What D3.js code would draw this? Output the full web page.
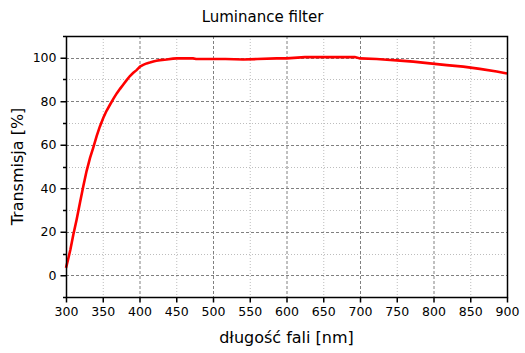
<!DOCTYPE html>
<html>
<head>
<meta charset="utf-8">
<script src="https://cdn.jsdelivr.net/npm/d3@7"></script>
<style>
  body { margin: 0; background: #fff; }
  text { font-family: "DejaVu Sans", sans-serif; fill: #000; }
</style>
</head>
<body>
<div id="chart"></div>
<script>
// długość fali [nm] i transmisja [%]
const wavelength = [300, 303, 306, 310, 314.5, 319, 323.6, 328, 332.7, 337, 341.7, 346, 350.8, 355, 360, 364.4, 369, 373.5, 378, 382.5, 387, 391.6, 396, 400.7, 405, 409.7, 414, 418.8, 423, 428, 437, 445.6, 450.6, 472.8, 477, 500, 517, 541, 560, 586.6, 600, 625, 650, 693, 700, 722.7, 741, 750, 772.5, 795, 818, 840.5, 863, 886, 900];
const transmission = [3.4, 7.5, 11.8, 18.7, 25.6, 33.3, 41, 47.9, 54, 58.6, 64, 68.3, 72.4, 75.5, 78.5, 81.1, 83.6, 85.7, 87.7, 89.7, 91.6, 93.1, 94.3, 95.9, 96.7, 97.4, 97.8, 98.3, 98.6, 98.9, 99.2, 99.6, 99.7, 99.7, 99.4, 99.4, 99.4, 99.2, 99.4, 99.7, 99.7, 100.3, 100.3, 100.3, 99.7, 99.4, 99.0, 98.8, 98.2, 97.4, 96.6, 95.9, 94.9, 93.7, 92.8];
const xTicks = [300, 350, 400, 450, 500, 550, 600, 650, 700, 750, 800, 850, 900];
const yTicks = [0, 20, 40, 60, 80, 100];
const yMinor = [-10, 10, 30, 50, 70, 90, 110];

const width = 525, height = 353;
const margin = {top: 36, right: 18, bottom: 56, left: 66};

const svg = d3.select("#chart").append("svg")
    .attr("width", width)
    .attr("height", height);

const xScale = d3.scaleLinear().domain([300, 900]).range([margin.left, width - margin.right]);
const yScale = d3.scaleLinear().domain([-10, 110]).range([height - margin.bottom, margin.top]);

// siatka pomocnicza (kropkowana)
const minorX = xTicks.filter(d => d % 100 !== 0 && d > 300 && d < 900);
svg.append("g").selectAll("line").data(minorX).enter().append("line")
    .attr("x1", d => xScale(d) + 0.5).attr("x2", d => xScale(d) + 0.5)
    .attr("y1", margin.top).attr("y2", height - margin.bottom)
    .attr("stroke", "#bdbdbd").attr("stroke-dasharray", "1,2");
svg.append("g").selectAll("line").data(yMinor.slice(1, -1)).enter().append("line")
    .attr("x1", margin.left).attr("x2", width - margin.right)
    .attr("y1", d => Math.round(yScale(d)) + 0.5).attr("y2", d => Math.round(yScale(d)) + 0.5)
    .attr("stroke", "#bdbdbd").attr("stroke-dasharray", "1,2");

// siatka główna (kreskowana)
const majorX = xTicks.filter(d => d % 100 === 0 && d > 300 && d < 900);
svg.append("g").selectAll("line").data(majorX).enter().append("line")
    .attr("x1", d => xScale(d) + 0.5).attr("x2", d => xScale(d) + 0.5)
    .attr("y1", margin.top).attr("y2", height - margin.bottom)
    .attr("stroke", "#808080").attr("stroke-dasharray", "3,2");
svg.append("g").selectAll("line").data(yTicks).enter().append("line")
    .attr("x1", margin.left).attr("x2", width - margin.right)
    .attr("y1", d => Math.round(yScale(d)) + 0.5).attr("y2", d => Math.round(yScale(d)) + 0.5)
    .attr("stroke", "#808080").attr("stroke-dasharray", "3,2");

// krzywa transmisji
const data = wavelength.map((w, i) => ({x: w, y: transmission[i]}));
svg.append("path")
    .datum(data)
    .attr("fill", "none")
    .attr("stroke", "#ff0000")
    .attr("stroke-width", 2.6)
    .attr("d", d3.line().x(d => xScale(d.x)).y(d => yScale(d.y)));

// ramka
svg.append("rect")
    .attr("x", margin.left + 0.5).attr("y", margin.top + 0.5)
    .attr("width", width - margin.left - margin.right)
    .attr("height", height - margin.top - margin.bottom)
    .attr("fill", "none").attr("stroke", "#000").attr("stroke-width", 1.5);

// oś x
const gx = svg.append("g")
    .attr("transform", "translate(0," + (height - margin.bottom + 0.5) + ")")
    .call(d3.axisBottom(xScale).tickValues(xTicks).tickSize(5).tickPadding(5).tickFormat(d3.format("d")));
gx.select(".domain").remove();
gx.selectAll("line").attr("stroke-width", 1.5);
gx.selectAll("text").style("font-size", "12.5px").style("font-family", "DejaVu Sans");

// oś y
const gy = svg.append("g")
    .attr("transform", "translate(" + (margin.left + 0.5) + ",0)")
    .call(d3.axisLeft(yScale).tickValues(yTicks).tickSize(6).tickPadding(4).tickFormat(d3.format("d")));
gy.select(".domain").remove();
gy.selectAll("line").attr("stroke-width", 1.5);
gy.selectAll("text").style("font-size", "12.5px").style("font-family", "DejaVu Sans");
svg.append("g").selectAll("line").data(yMinor).enter().append("line")
    .attr("x1", margin.left - 3).attr("x2", margin.left)
    .attr("y1", d => Math.round(yScale(d)) + 0.5).attr("y2", d => Math.round(yScale(d)) + 0.5)
    .attr("stroke", "#000").attr("stroke-width", 1.5);

// tytuł i opisy osi
svg.append("text")
    .attr("x", width / 2).attr("y", 22)
    .attr("text-anchor", "middle").style("font-size", "15px")
    .text("Luminance filter");
svg.append("text")
    .attr("x", (margin.left + width - margin.right) / 2).attr("y", 343)
    .attr("text-anchor", "middle").style("font-size", "16px")
    .text("długość fali [nm]");
svg.append("text")
    .attr("transform", "translate(23," + ((margin.top + height - margin.bottom) / 2) + ") rotate(-90)")
    .attr("text-anchor", "middle").style("font-size", "16px")
    .text("Transmisja [%]");
</script>
</body>
</html>
